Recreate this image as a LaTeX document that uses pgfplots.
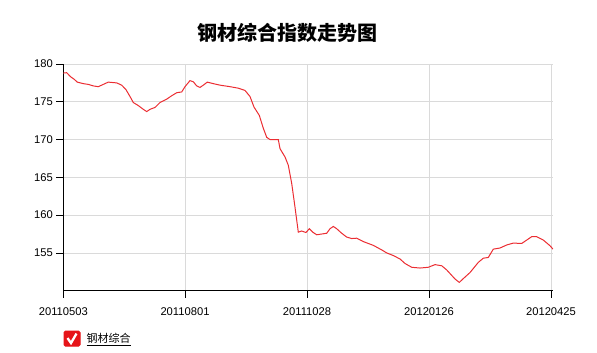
\documentclass[border=0pt]{standalone}
\usepackage{fontspec}
\setmainfont{Liberation Sans}
\newfontfamily\cjk{Noto Sans CJK SC}
\usepackage{pgfplots}
\pgfplotsset{compat=1.18}
\definecolor{linered}{RGB}{235,45,50}
\definecolor{boxred}{RGB}{230,20,25}
\definecolor{gridgray}{RGB}{218,218,218}
\begin{document}
\begin{tikzpicture}[x=1pt,y=1pt]
\path[use as bounding box] (0,0) rectangle (597,353);
\node[font=\cjk\bfseries\fontsize{20}{23}\selectfont] at (287,320) {钢材综合指数走势图};
\begin{axis}[
  at={(63.3pt,62.3pt)}, anchor=south west,
  scale only axis, width=489.7pt, height=226.7pt,
  xmin=63.3, xmax=553, ymin=150, ymax=180,
  axis x line*=bottom, axis y line*=left,
  axis line style={black, line width=1.4pt},
  grid=major, major grid style={gridgray, line width=0.8pt},
  xtick={63.3,185,307,429,551},
  xticklabels={20110503,20110801,20111028,20120126,20120425},
  ytick={155,160,165,170,175,180},
  tick align=outside, major tick length=7pt,
  tick style={black, line width=0.8pt},
  ticklabel style={font=\fontsize{11.2}{13}\selectfont},
  /pgf/number format/assume math mode=true,
  yticklabel style={xshift=0pt},
  xticklabel style={yshift=-6pt},
  legend style={at={(0,-0.175)}, anchor=north west, draw=none, fill=none,
    font=\cjk\fontsize{11}{13}\selectfont, inner sep=0pt,
    nodes={inner xsep=6pt}},
  legend image code/.code={
    \fill[boxred, rounded corners=1.5pt] (0pt,-7.5pt) rectangle (16pt,7.5pt);
    \draw[white, line width=2.3pt] (3.5pt,0.5pt)--(7pt,-4.5pt)--(12.5pt,5pt);
  },
]
\addplot[linered, line width=1pt] coordinates {
(63.3,178.8) (66.7,178.85) (70.7,178.3) (74,178.0) (77.3,177.6) (83.3,177.4)
(88.3,177.3) (93.3,177.1) (98.3,177.0) (103.3,177.3) (108.3,177.6) (116.7,177.5)
(121.7,177.2) (126,176.6) (130,175.7) (133.3,174.9) (138.3,174.5) (143.3,174.0)
(146.7,173.7) (150,174.0) (155,174.25) (160,174.9) (166.7,175.35) (171.7,175.8)
(176.7,176.2) (181.7,176.3) (185,177.0) (190,177.8) (193.3,177.65) (196.7,177.1)
(200,176.9) (203.3,177.2) (207.3,177.6) (213.3,177.4) (220,177.2) (230,177.0)
(238.3,176.8) (245,176.5) (250,175.7) (254,174.3) (259.3,173.2) (263.3,171.5)
(266.7,170.3) (270,170.0) (278.3,170.0) (280,168.8) (285,167.7) (288.3,166.6)
(291.7,164.2) (295,161.05) (298.3,157.75) (301.7,157.9) (306,157.7) (309.3,158.2)
(312.7,157.75) (316.7,157.4) (321.7,157.5) (326.7,157.6) (330,158.2) (333.3,158.5)
(336.7,158.2) (341.7,157.6) (346.7,157.1) (351.7,156.9) (356.7,156.95) (363.3,156.5)
(373.3,156.0) (381.7,155.4) (386.7,155.0) (393.3,154.65) (400,154.2) (405,153.6)
(411.7,153.1) (420,153.0) (428.3,153.1) (435,153.45) (441.7,153.3) (446.7,152.75)
(455,151.55) (459.3,151.1) (463.3,151.6) (470,152.4) (478.3,153.75) (483.3,154.3)
(488.3,154.4) (493.3,155.5) (500,155.65) (506.7,156.05) (513.3,156.3) (521.7,156.25)
(526.7,156.7) (531.7,157.15) (536.7,157.15) (543.3,156.7) (550,155.95) (553,155.5)
};
\addlegendentry{\underline{钢材综合}}
\end{axis}
\end{tikzpicture}
\end{document}
